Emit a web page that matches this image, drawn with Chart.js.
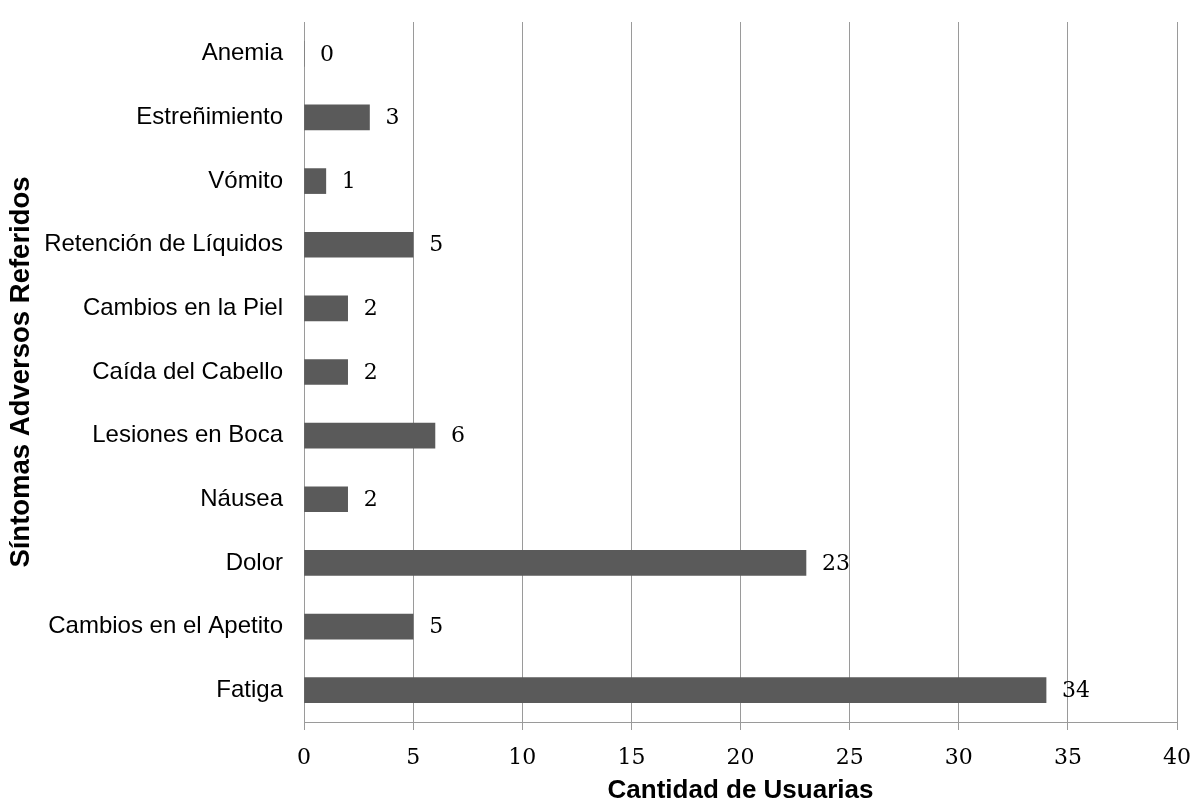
<!DOCTYPE html>
<html lang="es">
<head>
<meta charset="utf-8">
<title>Síntomas Adversos Referidos</title>
<script src="https://cdn.jsdelivr.net/npm/chart.js@4"></script>
<style>
  html, body { margin: 0; padding: 0; background: #ffffff; }
  #wrap { width: 1194px; height: 804px; }
</style>
</head>
<body>
<div id="wrap"><canvas id="chart" width="1194" height="804"></canvas></div>
<script>
// Symptom categories, listed from top to bottom of the chart
const sintomas = [
  'Anemia',
  'Estreñimiento',
  'Vómito',
  'Retención de Líquidos',
  'Cambios en la Piel',
  'Caída del Cabello',
  'Lesiones en Boca',
  'Náusea',
  'Dolor',
  'Cambios en el Apetito',
  'Fatiga'
];

// Number of users reporting each symptom
const usuarias = [0, 3, 1, 5, 2, 2, 6, 2, 23, 5, 34];

// Value-axis range and step
const ejeMin = 0;
const ejeMax = 40;
const ejePaso = 5;

const tituloX = 'Cantidad de Usuarias';
const tituloY = 'Síntomas Adversos Referidos';

// Writes each bar's value just past its end
const etiquetasValor = {
  id: 'etiquetasValor',
  afterDatasetsDraw(chart) {
    const ctx = chart.ctx;
    const meta = chart.getDatasetMeta(0);
    const data = chart.data.datasets[0].data;
    ctx.save();
    ctx.font = '22px "DejaVu Serif", serif';
    ctx.fillStyle = '#000000';
    ctx.textAlign = 'left';
    ctx.textBaseline = 'middle';
    meta.data.forEach((bar, i) => {
      ctx.fillText(String(data[i]), bar.x + 16, bar.y + 1);
    });
    ctx.restore();
  }
};

const gris = '#9a9a9a';

new Chart(document.getElementById('chart'), {
  type: 'bar',
  data: {
    labels: sintomas,
    datasets: [{
      data: usuarias,
      backgroundColor: '#5a5a5a',
      borderWidth: 0,
      barThickness: 25
    }]
  },
  options: {
    indexAxis: 'y',
    responsive: false,
    animation: false,
    devicePixelRatio: 1,
    layout: { padding: { top: 22, right: 17, bottom: 0, left: 0 } },
    plugins: {
      legend: { display: false },
      tooltip: { enabled: false }
    },
    scales: {
      x: {
        type: 'linear',
        position: 'bottom',
        min: ejeMin,
        max: ejeMax,
        ticks: {
          stepSize: ejePaso,
          color: '#000000',
          padding: 15,
          font: { family: '"DejaVu Serif", serif', size: 22 }
        },
        grid: {
          color: gris,
          lineWidth: 1,
          tickLength: 8,
          drawTicks: true
        },
        border: { display: true, color: gris, width: 1 },
        title: {
          display: true,
          text: tituloX,
          color: '#000000',
          padding: { top: 0, bottom: 0 },
          font: { family: '"Liberation Sans", Arial, sans-serif', size: 26, weight: 'bold', lineHeight: 1 }
        },
        afterFit(scale) {
          scale.height = 82;
          scale.paddingLeft = 0;
          scale.paddingRight = 0;
        }
      },
      y: {
        type: 'category',
        position: 'left',
        ticks: {
          color: '#000000',
          padding: 21,
          font: { family: '"Liberation Sans", Arial, sans-serif', size: 24 }
        },
        grid: { display: false, drawTicks: false },
        border: { display: true, color: gris, width: 1 },
        title: {
          display: true,
          text: tituloY,
          color: '#000000',
          padding: { top: 8, bottom: 0 },
          font: { family: '"Liberation Sans", Arial, sans-serif', size: 27.5, weight: 'bold', lineHeight: 1 }
        },
        afterFit(scale) {
          scale.width = 304;
          scale.paddingTop = 0;
          scale.paddingBottom = 0;
        }
      }
    }
  },
  plugins: [etiquetasValor]
});
</script>
</body>
</html>
